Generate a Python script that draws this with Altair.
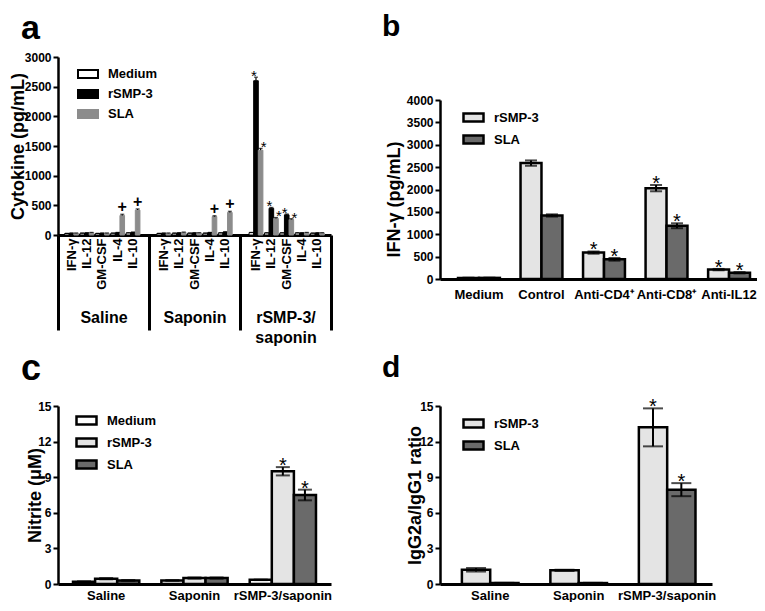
import altair as alt
import pandas as pd

FONT = "Liberation Sans"
LIGHT = "#e4e4e4"
DARK = "#6a6a6a"
GRAY_A = "#8c8c8c"
SWATCH = "M-1,-0.4H1V0.4H-1Z"

# ---------------- panel a data ----------------
a_groups = ["Saline", "Saponin", "rSMP-3/saponin"]
a_cytokines = ["IFN-γ", "IL-12", "GM-CSF", "IL-4", "IL-10"]
a_series = ["Medium", "rSMP-3", "SLA"]
a_medium = [25, 30, 25, 30, 35, 25, 30, 30, 30, 35, 40, 35, 35, 35, 30]
a_medium_err = [4, 4, 4, 4, 4, 4, 4, 4, 4, 4, 4, 4, 4, 4, 4]
a_rsmp = [30, 35, 30, 40, 45, 30, 35, 35, 40, 50, 2600, 450, 340, 35, 35]
a_rsmp_err = [4, 4, 4, 4, 4, 4, 4, 4, 4, 4, 60, 15, 15, 4, 4]
a_sla = [30, 40, 30, 330, 420, 30, 45, 35, 310, 380, 1430, 280, 260, 40, 35]
a_sla_err = [4, 4, 4, 20, 20, 4, 4, 4, 15, 20, 30, 15, 15, 4, 4]
a_medium_sig = ["", "", "", "", "", "", "", "", "", "", "", "", "", "", ""]
a_rsmp_sig = ["", "", "", "", "", "", "", "", "", "", "*", "*", "*", "", ""]
a_sla_sig = ["", "", "", "+", "+", "", "", "", "+", "+", "*", "*", "*", "", ""]

# ---------------- panel b data ----------------
b_cats = ["Medium", "Control", "Anti-CD4⁺", "Anti-CD8⁺", "Anti-IL12"]
b_series = ["rSMP-3", "SLA"]
b_rsmp = [25, 2590, 590, 2030, 210]
b_rsmp_err = [5, 60, 25, 70, 15]
b_sla = [25, 1420, 440, 1190, 140]
b_sla_err = [5, 25, 30, 55, 15]
b_rsmp_sig = ["", "", "*", "*", "*"]
b_sla_sig = ["", "", "*", "*", "*"]

# ---------------- panel c data ----------------
c_groups = ["Saline", "Saponin", "rSMP-3/saponin"]
c_series = ["Medium", "rSMP-3", "SLA"]
c_medium = [0.2, 0.3, 0.35]
c_medium_err = [0.02, 0.02, 0.02]
c_rsmp = [0.45, 0.5, 9.5]
c_rsmp_err = [0.05, 0.05, 0.35]
c_sla = [0.3, 0.5, 7.5]
c_sla_err = [0.03, 0.05, 0.45]
c_medium_sig = ["", "", ""]
c_rsmp_sig = ["", "", "*"]
c_sla_sig = ["", "", "*"]

# ---------------- panel d data ----------------
d_groups = ["Saline", "Saponin", "rSMP-3/saponin"]
d_series = ["rSMP-3", "SLA"]
d_rsmp = [1.2, 1.15, 13.2]
d_rsmp_err = [0.15, 0.05, 1.6]
d_sla = [0.08, 0.08, 7.95]
d_sla_err = [0.02, 0.02, 0.55]
d_rsmp_sig = ["", "", "*"]
d_sla_sig = ["", "", "*"]


def frame(cats, series_list):
    rows = []
    for name, vals, errs, sigs in series_list:
        for i, c in enumerate(cats):
            rows.append(dict(cat=c, series=name, value=vals[i],
                             lo=vals[i] - errs[i], hi=vals[i] + errs[i], sig=sigs[i]))
    return pd.DataFrame(rows)


def legend(x, y, sw):
    return alt.Legend(title=None, orient="none", legendX=x, legendY=y,
                      symbolType=SWATCH, symbolSize=400, symbolStrokeWidth=sw,
                      symbolStrokeColor="black",
                      labelFont=FONT, labelFontSize=13, labelFontWeight="bold",
                      labelColor="black", labelOffset=9, rowPadding=1, padding=0)


def y_axis(title, values, title_x, title_y=None):
    kw = dict(title=title, values=values, format="d", labelOverlap=False,
              titleFont=FONT, titleFontSize=18,
              titleFontWeight="bold", titleX=title_x, titleBaseline="bottom",
              labelFont=FONT, labelFontSize=12, labelFontWeight="bold",
              labelColor="black", titleColor="black",
              labelPadding=2, tickSize=5, tickWidth=2, domainWidth=2.5,
              domainColor="black", tickColor="black", grid=False)
    if title_y is not None:
        kw["titleY"] = title_y
    return alt.Axis(**kw)


def x_axis(pad):
    return alt.Axis(title=None, ticks=False, domainWidth=3, domainColor="black",
                    labelAngle=0, labelPadding=pad, labelFont=FONT,
                    labelFontSize=13, labelFontWeight="bold", labelColor="black")


def panel_title(t, size, dx, offset):
    return alt.TitleParams(text=t, fontSize=size, font=FONT, fontWeight="bold",
                           anchor="start", frame="group", dx=dx, offset=offset,
                           baseline="alphabetic", color="black")


# ================= panel a =================
slot_domain = []
for gi, g in enumerate(a_groups):
    if gi > 0:
        slot_domain.append("gap%d" % gi)
    for c in a_cytokines:
        slot_domain.append(g + ":" + c)

a_rows = []
for name, vals, errs, sigs in [("Medium", a_medium, a_medium_err, a_medium_sig),
                               ("rSMP-3", a_rsmp, a_rsmp_err, a_rsmp_sig),
                               ("SLA", a_sla, a_sla_err, a_sla_sig)]:
    for i in range(15):
        g = a_groups[i // 5]
        c = a_cytokines[i % 5]
        a_rows.append(dict(slot=g + ":" + c, series=name, value=vals[i],
                           hi=vals[i] + errs[i], sig=sigs[i]))
df_a = pd.DataFrame(a_rows)

xs_a = alt.Scale(domain=slot_domain, paddingInner=0.1, paddingOuter=0.43)
x_a_axis = alt.Axis(title=None, orient="bottom", labelAngle=270, ticks=False,
                    domainWidth=3, domainColor="black", labelPadding=3,
                    labelExpr="indexof(datum.label, ':') > 0 ? split(datum.label, ':')[1] : ''",
                    labelFont=FONT, labelFontSize=13, labelFontWeight="bold",
                    labelColor="black")
xo_a = alt.XOffset("series:N", scale=alt.Scale(domain=a_series))
ys_a = alt.Scale(domain=[0, 3000], nice=False)
ya_axis = y_axis("Cytokine (pg/mL)", [0, 500, 1000, 1500, 2000, 2500, 3000], -31)

base_a = alt.Chart(df_a)
bars_a = base_a.mark_bar(strokeWidth=1).encode(
    x=alt.X("slot:N", scale=xs_a, axis=x_a_axis),
    xOffset=xo_a,
    y=alt.Y("value:Q", scale=ys_a, axis=ya_axis),
    fill=alt.Fill("series:N", scale=alt.Scale(domain=a_series, range=["white", "black", GRAY_A]),
                  legend=legend(19, 6, 2)),
    stroke=alt.Stroke("series:N", scale=alt.Scale(domain=a_series, range=["black", "black", GRAY_A]),
                      legend=legend(19, 6, 2)),
)
err_a = base_a.mark_rule(strokeWidth=1.2, color="black").encode(
    x=alt.X("slot:N", scale=xs_a, axis=None), xOffset=xo_a,
    y=alt.Y("value:Q", scale=ys_a, axis=ya_axis), y2="hi:Q")
cap_a = base_a.mark_tick(size=4, thickness=1.2, color="black").encode(
    x=alt.X("slot:N", scale=xs_a, axis=None), xOffset=xo_a,
    y=alt.Y("hi:Q", scale=ys_a, axis=ya_axis))
plus_a = base_a.mark_text(font=FONT, fontSize=16, fontWeight="bold", baseline="alphabetic",
                          dy=-2, color="black").encode(
    x=alt.X("slot:N", scale=xs_a, axis=None), xOffset=xo_a,
    y=alt.Y("hi:Q", scale=ys_a, axis=ya_axis), text="sig:N").transform_filter("datum.sig == '+'")
star_a_r = base_a.mark_text(font=FONT, fontSize=15, baseline="alphabetic",
                            dy=4, dx=-2, color="black").encode(
    x=alt.X("slot:N", scale=xs_a, axis=None), xOffset=xo_a,
    y=alt.Y("hi:Q", scale=ys_a, axis=ya_axis), text="sig:N"
).transform_filter("datum.sig == '*' && datum.series == 'rSMP-3'")
star_a_s = base_a.mark_text(font=FONT, fontSize=15, baseline="alphabetic",
                            dy=4, dx=3, color="black").encode(
    x=alt.X("slot:N", scale=xs_a, axis=None), xOffset=xo_a,
    y=alt.Y("hi:Q", scale=ys_a, axis=ya_axis), text="sig:N"
).transform_filter("datum.sig == '*' && datum.series == 'SLA'")

grp_a = alt.Chart(pd.DataFrame({"group": a_groups})).mark_tick(opacity=0).encode(
    x=alt.X("group:N", scale=alt.Scale(domain=a_groups, paddingInner=0, paddingOuter=0),
            axis=alt.Axis(title=None, orient="bottom", domain=False, ticks=True,
                          tickBand="extent", tickSize=95, tickWidth=3, tickColor="black",
                          labelPadding=-21, labelAngle=0, labelBaseline="top",
                          labelExpr="datum.label == 'rSMP-3/saponin' ? ['rSMP-3/', 'saponin'] : datum.label",
                          labelFont=FONT, labelFontSize=16, labelFontWeight="bold",
                          labelColor="black", labelLineHeight=20)))

panel_a = alt.layer(bars_a, err_a, cap_a, plus_a, star_a_r, star_a_s, grp_a).resolve_scale(
    x="independent").properties(width=273, height=178,
                                title=panel_title("a", 34, -37, -22))


# ================= generic grouped panel =================
def grouped_panel(df, cats, series, fills, xscale, yscale, yaxis, xpad, leg, cap, title):
    base = alt.Chart(df)
    x = alt.X("cat:N", scale=xscale, axis=x_axis(xpad))
    xo = alt.XOffset("series:N", scale=alt.Scale(domain=series, paddingInner=0, paddingOuter=0))
    bars = base.mark_bar(stroke="black", strokeWidth=2.5).encode(
        x=x, xOffset=xo,
        y=alt.Y("value:Q", scale=yscale, axis=yaxis),
        fill=alt.Fill("series:N", scale=alt.Scale(domain=series, range=fills), legend=leg),
    )
    rule = base.mark_rule(strokeWidth=2, color="black").encode(
        x=x, xOffset=xo, y=alt.Y("lo:Q", scale=yscale, axis=yaxis), y2="hi:Q")
    cap_hi = base.mark_tick(size=cap, thickness=2, color="black").encode(
        x=x, xOffset=xo, y=alt.Y("hi:Q", scale=yscale, axis=yaxis))
    cap_lo = base.mark_tick(size=cap, thickness=2, color="black").encode(
        x=x, xOffset=xo, y=alt.Y("lo:Q", scale=yscale, axis=yaxis))
    stars = base.mark_text(font=FONT, fontSize=20, baseline="alphabetic", dy=5,
                           color="black").encode(
        x=x, xOffset=xo, y=alt.Y("hi:Q", scale=yscale, axis=yaxis), text="sig:N"
    ).transform_filter("datum.sig != ''")
    return alt.layer(bars, rule, cap_hi, cap_lo, stars).properties(title=title)


# ================= panel b =================
df_b = frame(b_cats, [("rSMP-3", b_rsmp, b_rsmp_err, b_rsmp_sig),
                      ("SLA", b_sla, b_sla_err, b_sla_sig)])
panel_b = grouped_panel(
    df_b, b_cats, b_series, [LIGHT, DARK],
    alt.Scale(domain=b_cats, paddingInner=0.33, paddingOuter=0.2, align=0.72),
    alt.Scale(domain=[0, 4000], range=[222, 43], nice=False),
    y_axis("IFN-γ (pg/mL)", list(range(0, 4001, 500)), -37, 142),
    9, legend(22, 49, 2.5), 12, panel_title("b", 30, -58, -9),
).properties(width=317, height=222)

# ================= panel c =================
df_c = frame(c_groups, [("Medium", c_medium, c_medium_err, c_medium_sig),
                        ("rSMP-3", c_rsmp, c_rsmp_err, c_rsmp_sig),
                        ("SLA", c_sla, c_sla_err, c_sla_sig)])
panel_c = grouped_panel(
    df_c, c_groups, c_series, ["white", LIGHT, DARK],
    alt.Scale(domain=c_groups, paddingInner=0.25, paddingOuter=0.17),
    alt.Scale(domain=[0, 15], nice=False),
    y_axis("Nitrite (μM)", [0, 3, 6, 9, 12, 15], -14),
    5, legend(17, 3, 2.5), 14, panel_title("c", 36, -37, -16),
).properties(width=273, height=178)

# ================= panel d =================
df_d = frame(d_groups, [("rSMP-3", d_rsmp, d_rsmp_err, d_rsmp_sig),
                        ("SLA", d_sla, d_sla_err, d_sla_sig)])
panel_d = grouped_panel(
    df_d, d_groups, d_series, [LIGHT, DARK],
    alt.Scale(domain=d_groups, paddingInner=0.36, paddingOuter=0.217, align=0.57),
    alt.Scale(domain=[0, 15], nice=False),
    y_axis("IgG2a/IgG1 ratio", [0, 3, 6, 9, 12, 15], -16),
    5, legend(22, 6, 2.5), 20, panel_title("d", 30, -58, -10),
).properties(width=272, height=178)

chart = alt.concat(
    panel_a, panel_b, panel_c, panel_d, columns=2,
    spacing={"row": 127, "column": 109}, bounds="flush", align="each",
).resolve_scale(
    fill="independent", stroke="independent", x="independent", y="independent",
    xOffset="independent",
).properties(
    padding={"top": 4, "left": 1, "right": 0, "bottom": 0},
    background="white",
).configure_view(stroke=None).configure_axis(grid=False)

chart.save("out.html", embed_options={"renderer": "svg", "actions": False})
